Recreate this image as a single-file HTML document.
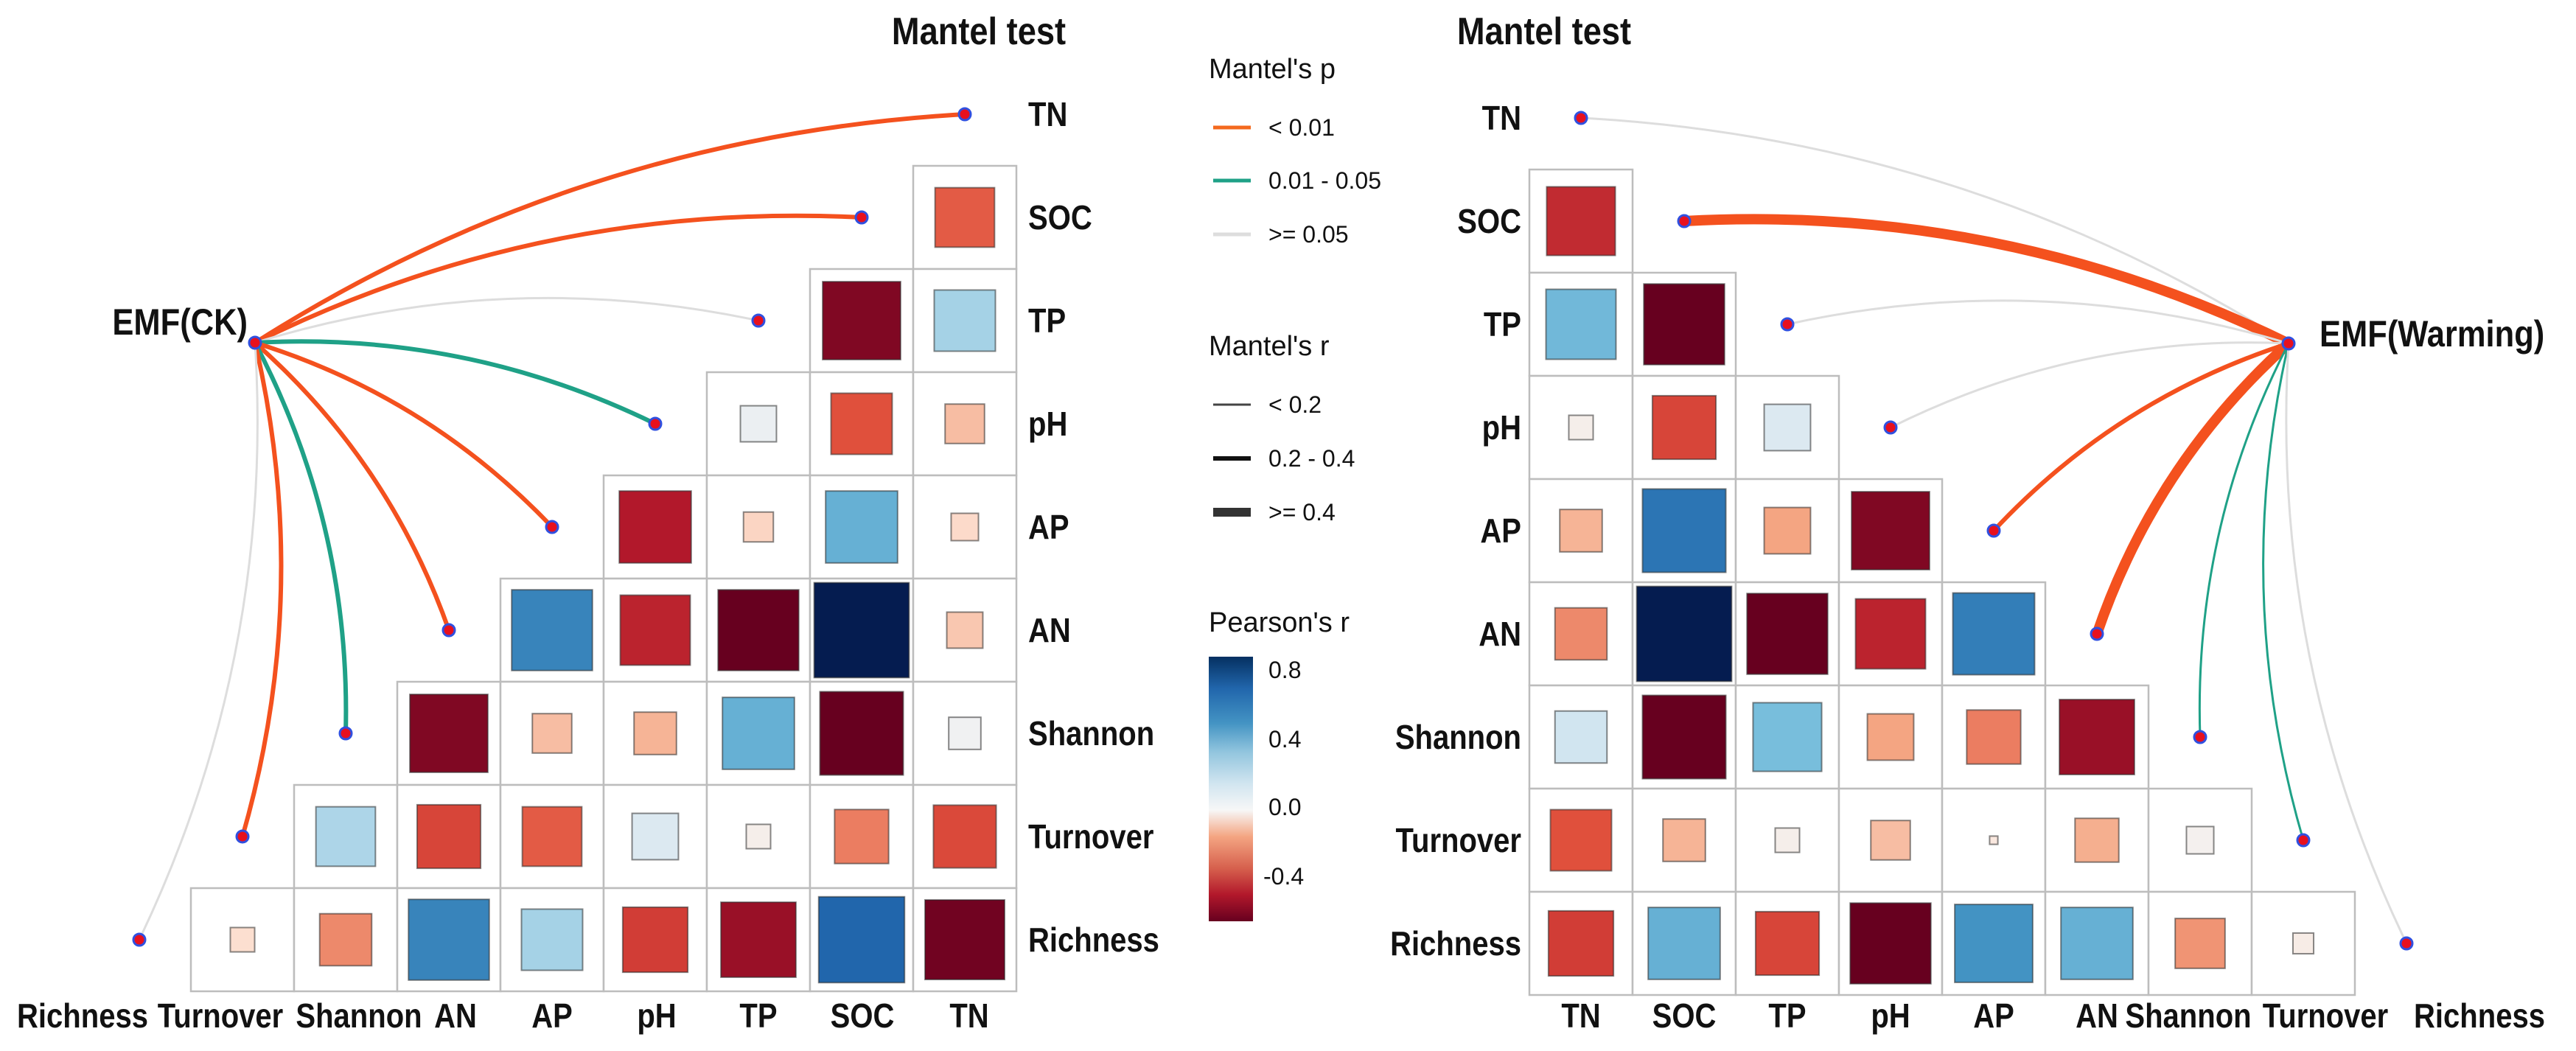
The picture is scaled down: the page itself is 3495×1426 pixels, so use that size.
<!DOCTYPE html>
<html><head><meta charset="utf-8"><style>
html,body{margin:0;padding:0;background:#fff}
svg{display:block}
text{font-family:"Liberation Sans Narrow","Liberation Sans",sans-serif;font-weight:bold;fill:#111}
.lg{font-weight:normal;font-size:32px}
.lt{font-weight:normal;font-size:38px}
</style></head><body>
<svg id="chart" width="3495" height="1426" viewBox="0 0 3495 1426">
<defs>
<linearGradient id="cbar" x1="0" y1="0" x2="0" y2="1">
<stop offset="0" stop-color="#053061"/><stop offset="0.12" stop-color="#2166AC"/><stop offset="0.25" stop-color="#4393C3"/><stop offset="0.36" stop-color="#92C5DE"/><stop offset="0.48" stop-color="#D1E5F0"/><stop offset="0.58" stop-color="#F7F7F7"/><stop offset="0.68" stop-color="#F4A582"/><stop offset="0.8" stop-color="#D6604D"/><stop offset="0.9" stop-color="#B2182B"/><stop offset="1" stop-color="#67001F"/>
</linearGradient>
</defs>
<g id="left"></g>
<g id="right"></g>
<g id="legend">
<text class="lt" x="1640" y="106">Mantel's p</text>
<line x1="1646" y1="173" x2="1697" y2="173" stroke="#F4691E" stroke-width="5"/>
<text class="lg" x="1721" y="184">&lt; 0.01</text>
<line x1="1646" y1="245" x2="1697" y2="245" stroke="#1FA187" stroke-width="5"/>
<text class="lg" x="1721" y="256">0.01 - 0.05</text>
<line x1="1646" y1="318" x2="1697" y2="318" stroke="#DDDDDD" stroke-width="5"/>
<text class="lg" x="1721" y="329">&gt;= 0.05</text>
<text class="lt" x="1640" y="482">Mantel's r</text>
<line x1="1646" y1="549" x2="1697" y2="549" stroke="#444" stroke-width="3"/>
<text class="lg" x="1721" y="560">&lt; 0.2</text>
<line x1="1646" y1="622" x2="1697" y2="622" stroke="#111" stroke-width="6"/>
<text class="lg" x="1721" y="633">0.2 - 0.4</text>
<line x1="1646" y1="695" x2="1697" y2="695" stroke="#333" stroke-width="12"/>
<text class="lg" x="1721" y="706">&gt;= 0.4</text>
<text class="lt" x="1640" y="857">Pearson's r</text>
<rect x="1640" y="891" width="60" height="359" fill="url(#cbar)"/>
<text class="lg" x="1721" y="920">0.8</text>
<text class="lg" x="1721" y="1014">0.4</text>
<text class="lg" x="1721" y="1106">0.0</text>
<text class="lg" x="1714" y="1200">-0.4</text>
</g>
</svg>
<script>
// ---- data ----
const leftVars = ["TN","SOC","TP","pH","AP","AN","Shannon","Turnover","Richness"];
const leftValues = [
 [],
 [-0.28],
 [-0.55, 0.30],
 [0.08, -0.30, -0.10],
 [-0.45, -0.05, 0.45, -0.04],
 [0.60, -0.42, -0.60, 0.90, -0.08],
 [-0.55, -0.10, -0.12, 0.45, -0.65, 0.06],
 [0.28, -0.33, -0.28, 0.15, 0.03, -0.22, -0.32],
 [-0.03, -0.20, 0.60, 0.30, -0.35, -0.50, 0.70, -0.58]
];
const leftLinkP = ["<0.01","<0.01",">=0.05","0.01-0.05","<0.01","<0.01","0.01-0.05","<0.01",">=0.05"];
const leftLinkR = ["0.2-0.4","0.2-0.4","<0.2","0.2-0.4","0.2-0.4","0.2-0.4","0.2-0.4","0.2-0.4","<0.2"];
const rightValues = [
 [],
 [-0.40],
 [0.42, -0.60],
 [0.03, -0.33, 0.15],
 [-0.12, 0.65, -0.15, -0.55],
 [-0.20, 0.90, -0.60, -0.42, 0.62],
 [0.20, -0.65, 0.40, -0.15, -0.22, -0.50],
 [-0.30, -0.12, 0.03, -0.10, 0.002, -0.13, 0.04],
 [-0.35, 0.45, -0.33, -0.60, 0.55, 0.45, -0.18, 0.02]
];
const rightLinkP = [">=0.05","<0.01",">=0.05",">=0.05","<0.01","<0.01","0.01-0.05","0.01-0.05",">=0.05"];
const rightLinkR = ["<0.2",">=0.4","<0.2","<0.2","0.2-0.4",">=0.4","<0.2","<0.2","<0.2"];

const NS="http://www.w3.org/2000/svg";
const CELL=140;
const pColor={"<0.01":"#F4511E","0.01-0.05":"#1FA187",">=0.05":"#DDDDDD"};
const rWidth={"<0.2":3,"0.2-0.4":6,">=0.4":14};
const stops=[[-0.6,[103,0,31]],[-0.45,[178,24,43]],[-0.3,[224,80,60]],[-0.15,[244,165,130]],[-0.02,[253,228,215]],[0.05,[242,242,242]],[0.2,[209,229,240]],[0.4,[120,190,220]],[0.55,[67,147,195]],[0.7,[33,102,172]],[0.9,[5,28,80]]];
function col(r){
 if(r<=stops[0][0])return "rgb("+stops[0][1]+")";
 for(let i=1;i<stops.length;i++){if(r<=stops[i][0]){const a=stops[i-1],b=stops[i];const t=(r-a[0])/(b[0]-a[0]);return "rgb("+a[1].map((v,k)=>Math.round(v+(b[1][k]-v)*t)).join(",")+")";}}
 return "rgb("+stops[stops.length-1][1]+")";
}
function el(tag,attrs,parent){const e=document.createElementNS(NS,tag);for(const k in attrs)e.setAttribute(k,attrs[k]);parent.appendChild(e);return e;}
function side(r){return CELL*0.92*Math.pow(Math.min(1,Math.abs(r)/0.9),0.4);}
function txt(g,x,y,s,size,anchor,sx){
 const t=el("text",{x:0,y:0,"font-size":size,"text-anchor":anchor,transform:`translate(${x},${y}) scale(${sx},1)`},g);
 t.textContent=s;return t;
}

function drawPanel(g,opts){
 const {vars,values,linkP,linkR,x0,y0,hub,mirror,colVar,labelX,labelAnchor,xLabelShift}=opts;
 const linksG=el("g",{},g);
 
 
 const pts=[];
 for(let r=0;r<9;r++){
  const c=opts.pointCol(r);
  const px=x0+c*CELL+CELL/2, py=y0+r*CELL+CELL/2;
  pts.push([px,py]);
  const dx=px-hub[0],dy=py-hub[1];
  const k=0.13*(mirror?-1:1);
  const cx=(hub[0]+px)/2+dy*k, cy=(hub[1]+py)/2-dx*k;
  const p=el("path",{d:`M${hub[0]},${hub[1]} Q${cx},${cy} ${px},${py}`,fill:"none",stroke:pColor[linkP[r]],"stroke-width":rWidth[linkR[r]],"stroke-linecap":"round"},linksG);
  
  
 }
 for(let r=1;r<9;r++){
  const vals=values[r];
  for(let j=0;j<vals.length;j++){
   const c=opts.cellCol(r,j);
   const x=x0+c*CELL,y=y0+r*CELL;
   const box=el("rect",{x:x,y:y,width:CELL,height:CELL,fill:"#fff",stroke:"#BDBDBD","stroke-width":2.5},g);
   
   
   const v=vals[j],s=side(v);
   const sq=el("rect",{x:x+CELL/2-s/2,y:y+CELL/2-s/2,width:s,height:s,fill:col(v),stroke:"rgba(40,40,40,0.55)","stroke-width":2},g);
   
   
  }
 }
 for(let r=0;r<9;r++){
  const d=el("circle",{cx:pts[r][0],cy:pts[r][1],r:8,fill:"#E8101E",stroke:"#3050E0","stroke-width":3},g);
  
  
 }
 const hd=el("circle",{cx:hub[0],cy:hub[1],r:8,fill:"#E8101E",stroke:"#3050E0","stroke-width":3},g);
 
 
 for(let r=0;r<9;r++){
  const t=txt(g,labelX,y0+r*CELL+CELL/2+16,vars[r],46,labelAnchor,0.87);
  
  
 }
 for(let c=0;c<9;c++){
  const t=txt(g,x0+c*CELL+CELL/2+xLabelShift[c],1394,colVar[c],46,"middle",0.87);
  
  
 }
}

const L=document.getElementById("left");
drawPanel(L,{vars:leftVars,values:leftValues,linkP:leftLinkP,linkR:leftLinkR,x0:119,y0:85,hub:[346,465],mirror:false,
 colVar:["Richness","Turnover","Shannon","AN","AP","pH","TP","SOC","TN"],
 pointCol:r=>8-r, cellCol:(r,j)=>9-r+j, labelX:1395,labelAnchor:"start",
 xLabelShift:[-77,-30,18,9,0,2,0,1,6]});
const R=document.getElementById("right");
drawPanel(R,{vars:leftVars,values:rightValues,linkP:rightLinkP,linkR:rightLinkR,x0:2075,y0:90,hub:[3105,466],mirror:true,
 colVar:["TN","SOC","TP","pH","AP","AN","Shannon","Turnover","Richness"],
 pointCol:r=>r, cellCol:(r,j)=>j, labelX:2064,labelAnchor:"end",
 xLabelShift:[0,0,0,0,0,0,-16,30,99]});
function addText(g,x,y,s,size,anchor,sx,name){const t=txt(g,x,y,s,size,anchor,sx);}
addText(L,1328,60,"Mantel test",52,"middle",0.87,"left-title");
addText(R,2095,60,"Mantel test",52,"middle",0.87,"right-title");
addText(L,336,454,"EMF(CK)",50,"end",0.87,"hub-label-ck");
addText(R,3147,470,"EMF(Warming)",50,"start",0.87,"hub-label-warming");
</script>
</body></html>
